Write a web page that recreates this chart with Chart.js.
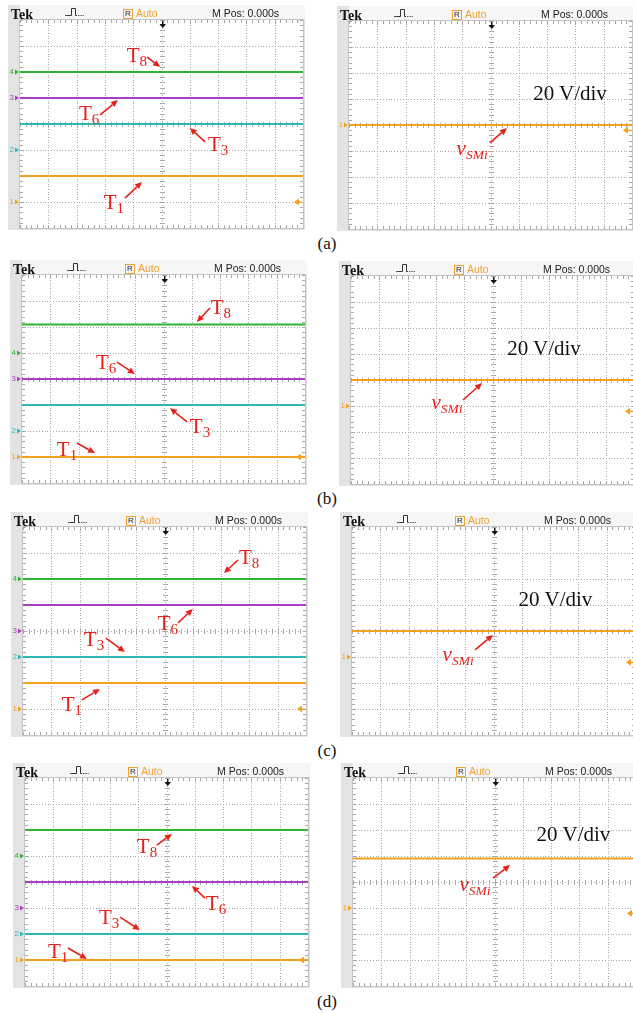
<!DOCTYPE html>
<html>
<head>
<meta charset="UTF-8">
<title>Tek captures</title>
<script src="https://cdn.jsdelivr.net/npm/chart.js@4.4.0/dist/chart.umd.min.js"></script>
<style>
  body{margin:0;width:633px;height:1013px;overflow:hidden;background:#fff;position:relative;font-family:"Liberation Sans",Arial,sans-serif}
  .scope{position:absolute;width:297px;height:225px}
  .scope canvas{position:absolute;left:0;top:0}
  .txt{position:absolute;white-space:nowrap;line-height:1}
  .tek{font:bold 14px "Liberation Serif";color:#111;left:3px;top:2px}
  .hdr{font-size:10.5px;color:#222;top:3px}
  .auto{color:#f0a030}
  .rbox{display:inline-block;border:1px solid #f0a030;font-size:8px;line-height:8px;width:8px;text-align:center;margin-right:3px;vertical-align:1px}
  .ref{font-size:8px;width:6px;text-align:right;transform:translateY(-50%)}
  .lbl{font-family:"Liberation Serif";font-size:21px;color:#e8201a;transform:translate(-50%,-50%)}
  .lbl .s{font-size:15px;position:relative;top:4px}
  .lbl.v{font-style:italic}
  .lbl.v .s{font-size:13.5px}
  .vdiv{font-family:"Liberation Serif";font-size:21px;color:#111;transform:translate(-50%,-50%)}
  .cap{font-family:"Liberation Serif";font-size:17px;color:#111;transform:translate(-50%,-50%)}
</style>
</head>
<body>
<script>
  const panelTags = ['(a)', '(b)', '(c)', '(d)'];
  const xDivs = [0, 10];                 // time axis: full 10-division sweep
  // left scope, trace levels in divisions (0 = bottom of screen, 8 = top)
  const t8Level = [6, 6.1, 6, 6];
  const t6Level = [5, 4, 5, 4];
  const t3Level = [4, 3, 3, 2];
  const t1Level = [2, 1, 2, 1];
  // channel ground markers on the left scope
  const ch4Ref = [6, 5, 6, 5];
  const ch3Ref = [5, 4, 4, 3];
  const ch2Ref = [3, 2, 3, 2];
  const ch1Ref = [1, 1, 1, 1];
  const trigLeft = [1, 1, 1, 1];
  // right scope, v_SMi at 20 V/div
  const vsmLevel = [4, 4, 4, 4.9];
  const vsmRef = [4, 3, 3, 3];
  const trigRight = [3.8, 2.8, 2.8, 2.8];

  const GREEN = '#2fb42f', PURPLE = '#ac3cc2', CYAN = '#2db8b8', ORANGE = '#f3a11e', RED = '#e8201a';

  // where each screen's graticule sits on the page
  const leftGrid = [[20, 20], [22, 275], [23, 527], [25, 778]];
  const rightGrid = [[349, 21], [351, 276], [352, 527], [353, 778]];
  const PAD = {left: 12, top: 15, right: 2, bottom: 2};
  const GW = 283, GH = 208;

  // annotations in division units: label centre, arrow tail, arrow head
  const leftNotes = [
    [{n: '8', at: [4.13, 6.65], from: [4.49, 6.58], to: [4.95, 6.19]},
     {n: '6', at: [2.44, 4.42], from: [2.83, 4.35], to: [3.46, 4.92]},
     {n: '3', at: [7.0, 3.23], from: [6.54, 3.31], to: [6.0, 3.85]},
     {n: '1', at: [3.32, 1.0], from: [3.71, 1.15], to: [4.31, 1.77]}],
    [{n: '8', at: [7.03, 6.77], from: [6.64, 6.73], to: [6.18, 6.19]},
     {n: '6', at: [2.97, 4.65], from: [3.36, 4.65], to: [3.99, 4.19]},
     {n: '3', at: [6.29, 2.19], from: [5.83, 2.35], to: [5.23, 2.88]},
     {n: '1', at: [1.59, 1.31], from: [1.94, 1.54], to: [2.58, 1.15]}],
    [{n: '8', at: [7.99, 6.85], from: [7.6, 6.73], to: [7.1, 6.23]},
     {n: '6', at: [5.12, 4.31], from: [5.48, 4.31], to: [6.0, 4.85]},
     {n: '3', at: [2.51, 3.69], from: [2.93, 3.73], to: [3.6, 3.19]},
     {n: '1', at: [1.73, 1.19], from: [2.08, 1.35], to: [2.72, 1.77]}],
    [{n: '8', at: [4.31, 5.38], from: [4.66, 5.42], to: [5.19, 5.85]},
     {n: '6', at: [6.75, 3.19], from: [6.36, 3.38], to: [5.9, 3.85]},
     {n: '3', at: [2.97, 2.65], from: [3.36, 2.65], to: [4.06, 2.15]},
     {n: '1', at: [1.17, 1.35], from: [1.52, 1.46], to: [2.19, 1.04]}]
  ];
  const rightNotes = [
    {at: [4.35, 3.12], from: [4.98, 3.31], to: [5.58, 3.88], vdiv: [7.81, 5.23]},
    {at: [3.39, 3.15], from: [3.96, 3.23], to: [4.63, 3.88], vdiv: [6.82, 5.23]},
    {at: [3.75, 3.12], from: [4.35, 3.27], to: [4.98, 3.85], vdiv: [7.19, 5.23]},
    {at: [4.31, 3.92], from: [4.95, 4.15], to: [5.55, 4.65], vdiv: [7.79, 5.85]}
  ];

  const scopeChrome = {
    id: 'scopeChrome',
    beforeDraw(chart) {
      const {ctx, width, height, chartArea: a} = chart;
      const x = chart.scales.x, y = chart.scales.y;
      ctx.save();
      ctx.fillStyle = '#e3e3e3';
      ctx.fillRect(0, 0, width, height);
      ctx.fillStyle = '#f6f6f6';
      ctx.fillRect(a.left, 0, width - a.left, a.top - 1);
      ctx.fillStyle = '#fff';
      ctx.fillRect(a.left, a.top, a.width, a.height);
      // dotted graticule
      ctx.fillStyle = '#a8a8a8';
      for (let i = 1; i < 10; i++) {
        const px = Math.round(x.getPixelForValue(i));
        for (let k = 0; k <= 80; k++) ctx.fillRect(px, Math.round(y.getPixelForValue(k / 10)), 1, 1);
      }
      for (let j = 1; j < 8; j++) {
        const py = Math.round(y.getPixelForValue(j));
        for (let k = 0; k <= 100; k++) ctx.fillRect(Math.round(x.getPixelForValue(k / 10)), py, 1, 1);
      }
      // minor ticks on centre lines and edges
      const cy = Math.round(y.getPixelForValue(4)), cx = Math.round(x.getPixelForValue(5));
      for (let k = 0; k <= 50; k++) {
        const px = Math.round(x.getPixelForValue(k / 5));
        ctx.fillRect(px, cy - 2, 1, 5);
        ctx.fillRect(px, a.top, 1, 3);
        ctx.fillRect(px, a.bottom - 3, 1, 3);
      }
      for (let k = 0; k <= 40; k++) {
        const py = Math.round(y.getPixelForValue(k / 5));
        ctx.fillRect(cx - 2, py, 5, 1);
        ctx.fillRect(a.left, py, 3, 1);
        ctx.fillRect(a.right - 3, py, 3, 1);
      }
      ctx.strokeStyle = '#c4c4c4';
      ctx.lineWidth = 1;
      ctx.strokeRect(a.left - 0.5, a.top - 0.5, a.width + 1, a.height + 1);
      ctx.restore();
    },
    afterDatasetsDraw(chart, args, o) {
      const {ctx, chartArea: a} = chart;
      const x = chart.scales.x, y = chart.scales.y;
      ctx.save();
      // edge-trigger icon in the header
      const hx = a.left + 45, hy = a.top - 5;
      ctx.strokeStyle = '#333';
      ctx.lineWidth = 1;
      ctx.beginPath();
      ctx.moveTo(hx + 3, hy + 0.5); ctx.lineTo(hx + 6.5, hy + 0.5); ctx.lineTo(hx + 6.5, hy - 6.5);
      ctx.lineTo(hx + 10.5, hy - 6.5); ctx.lineTo(hx + 10.5, hy + 0.5); ctx.lineTo(hx + 12, hy + 0.5);
      ctx.stroke();
      ctx.fillStyle = '#555';
      for (let k = 0; k < 3; k++) ctx.fillRect(hx + k, hy, 1, 1);
      for (let k = 0; k < 4; k++) ctx.fillRect(hx + 13 + k * 1.6, hy, 1, 1);
      // trigger position marker at top centre
      const tx = Math.round(x.getPixelForValue(5)) + 0.5;
      ctx.fillStyle = '#111';
      ctx.fillRect(tx - 0.5, a.top + 1, 1.5, 4);
      ctx.beginPath();
      ctx.moveTo(tx - 3, a.top + 4); ctx.lineTo(tx + 3.5, a.top + 4); ctx.lineTo(tx + 0.25, a.top + 8);
      ctx.closePath(); ctx.fill();
      // channel ground markers
      o.refs.forEach(r => {
        const py = y.getPixelForValue(r.v);
        ctx.fillStyle = r.color;
        ctx.beginPath();
        ctx.moveTo(a.left - 5, py - 2.5); ctx.lineTo(a.left - 1, py); ctx.lineTo(a.left - 5, py + 2.5);
        ctx.closePath(); ctx.fill();
      });
      // trigger level marker on the right edge
      const ty = y.getPixelForValue(o.trig);
      ctx.fillStyle = ORANGE;
      ctx.beginPath();
      ctx.moveTo(a.right - 9, ty); ctx.lineTo(a.right - 4, ty - 3.5); ctx.lineTo(a.right - 4, ty + 3.5);
      ctx.closePath(); ctx.fill();
      ctx.fillRect(a.right - 4, ty - 0.5, 3, 1.5);
      // red annotation arrows
      ctx.strokeStyle = RED;
      ctx.fillStyle = RED;
      ctx.lineWidth = 1.6;
      o.arrows.forEach(ar => {
        const x0 = x.getPixelForValue(ar.from[0]), y0 = y.getPixelForValue(ar.from[1]);
        const x1 = x.getPixelForValue(ar.to[0]), y1 = y.getPixelForValue(ar.to[1]);
        const ang = Math.atan2(y1 - y0, x1 - x0), hl = 7, hw = 3.2;
        const bx = x1 - hl * Math.cos(ang), by = y1 - hl * Math.sin(ang);
        ctx.beginPath(); ctx.moveTo(x0, y0); ctx.lineTo(bx, by); ctx.stroke();
        ctx.beginPath();
        ctx.moveTo(x1, y1);
        ctx.lineTo(bx + hw * Math.sin(ang), by - hw * Math.cos(ang));
        ctx.lineTo(bx - hw * Math.sin(ang), by + hw * Math.cos(ang));
        ctx.closePath(); ctx.fill();
      });
      ctx.restore();
    }
  };

  function put(parent, cls, html, left, top, color) {
    const el = document.createElement('div');
    el.className = 'txt ' + cls;
    el.innerHTML = html;
    el.style.left = left + 'px';
    el.style.top = top + 'px';
    if (color) el.style.color = color;
    parent.appendChild(el);
    return el;
  }

  function makeScope(grid, traces, refs, trig, arrows) {
    const box = document.createElement('div');
    box.className = 'scope';
    box.style.left = (grid[0] - PAD.left) + 'px';
    box.style.top = (grid[1] - PAD.top) + 'px';
    const cv = document.createElement('canvas');
    cv.width = PAD.left + GW + PAD.right;
    cv.height = PAD.top + GH + PAD.bottom;
    box.appendChild(cv);
    document.body.appendChild(box);

    const chart = new Chart(cv, {
      type: 'line',
      data: {
        datasets: traces.map(t => ({
          data: xDivs.map(v => ({x: v, y: t.level})),
          borderColor: t.color,
          borderWidth: 2
        }))
      },
      options: {
        responsive: false,
        animation: false,
        events: [],
        layout: {padding: PAD},
        elements: {point: {radius: 0}},
        plugins: {
          legend: {display: false},
          tooltip: {enabled: false},
          scopeChrome: {refs, trig, arrows}
        },
        scales: {
          x: {type: 'linear', min: 0, max: 10, display: false},
          y: {type: 'linear', min: 0, max: 8, display: false}
        }
      },
      plugins: [scopeChrome]
    });

    put(box, 'tek', 'Tek', 3, 2);
    put(box, 'hdr', '<span class="rbox">R</span><span class="auto">Auto</span>', PAD.left + 103, 3);
    put(box, 'hdr', 'M Pos: 0.000s', PAD.left + 192, 3);
    refs.forEach(r => put(box, 'ref', r.name, PAD.left - 12, chart.scales.y.getPixelForValue(r.v), r.color));
    return {box, chart};
  }

  panelTags.forEach((tag, i) => {
    const L = makeScope(leftGrid[i],
      [{level: t8Level[i], color: GREEN}, {level: t6Level[i], color: PURPLE},
       {level: t3Level[i], color: CYAN}, {level: t1Level[i], color: ORANGE}],
      [{name: '4', v: ch4Ref[i], color: GREEN}, {name: '3', v: ch3Ref[i], color: PURPLE},
       {name: '2', v: ch2Ref[i], color: CYAN}, {name: '1', v: ch1Ref[i], color: ORANGE}],
      trigLeft[i], leftNotes[i]);
    leftNotes[i].forEach(nt => {
      put(L.box, 'lbl', 'T<span class="s">' + nt.n + '</span>',
        L.chart.scales.x.getPixelForValue(nt.at[0]), L.chart.scales.y.getPixelForValue(nt.at[1]));
    });

    const rn = rightNotes[i];
    const R = makeScope(rightGrid[i],
      [{level: vsmLevel[i], color: ORANGE}],
      [{name: '1', v: vsmRef[i], color: ORANGE}],
      trigRight[i], [rn]);
    put(R.box, 'lbl v', 'v<span class="s">SMi</span>',
      R.chart.scales.x.getPixelForValue(rn.at[0]), R.chart.scales.y.getPixelForValue(rn.at[1]));
    put(R.box, 'vdiv', '20 V/div',
      R.chart.scales.x.getPixelForValue(rn.vdiv[0]), R.chart.scales.y.getPixelForValue(rn.vdiv[1]));

    put(document.body, 'cap', tag, 327, leftGrid[i][1] + 223);
  });
</script>
</body>
</html>
